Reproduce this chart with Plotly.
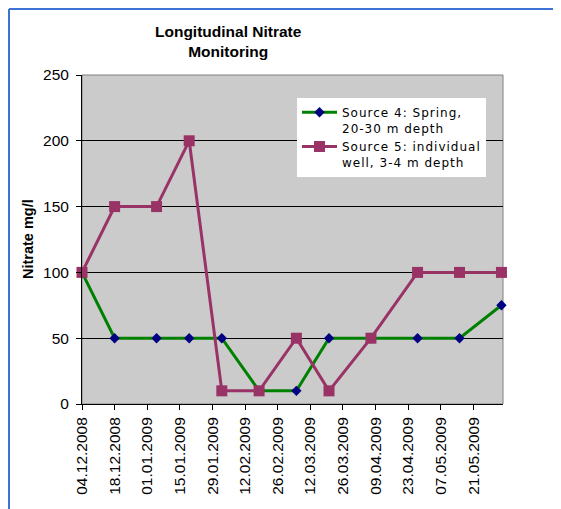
import plotly.graph_objects as go
from datetime import datetime

# ---- data ----
sample_dates = ["2008-12-04", "2008-12-18", "2009-01-05", "2009-01-19", "2009-02-02",
                "2009-02-18", "2009-03-06", "2009-03-20", "2009-04-07", "2009-04-27",
                "2009-05-15", "2009-06-02"]
source4 = [100, 50, 50, 50, 50, 10, 10, 50, 50, 50, 50, 75]
source5 = [100, 150, 150, 200, 10, 10, 50, 10, 50, 100, 100, 100]
series_names = [["Source 4: Spring,", "20-30 m depth"],
                ["Source 5: individual", "well, 3-4 m depth"]]
tick_labels = ["04.12.2008", "18.12.2008", "01.01.2009", "15.01.2009", "29.01.2009",
               "12.02.2009", "26.02.2009", "12.03.2009", "26.03.2009", "09.04.2009",
               "23.04.2009", "07.05.2009", "21.05.2009"]
y_ticks = [0, 50, 100, 150, 200, 250]

tick_vals = [datetime.strptime(t, "%d.%m.%Y").strftime("%Y-%m-%d") for t in tick_labels]


def spaced(lines):
    return "<br>".join('<span style="letter-spacing:1px">%s</span>' % s for s in lines)


fig = go.Figure()
fig.add_trace(go.Scatter(
    x=sample_dates, y=source4, mode="lines+markers",
    name=spaced(series_names[0]),
    line=dict(color="#008000", width=3),
    marker=dict(symbol="diamond", size=8, color="#000080"),
    cliponaxis=False))
fig.add_trace(go.Scatter(
    x=sample_dates, y=source5, mode="lines+markers",
    name=spaced(series_names[1]),
    line=dict(color="#993366", width=3),
    marker=dict(symbol="square", size=11, color="#993366"),
    cliponaxis=False))

# page body has an 8px margin, so the figure starts at (8, 8) of the window
OFF = 8
W, H = 561 - OFF, 509 - OFF
L, T = 82 - OFF, 75 - OFF
R = W - (503 - OFF)
B = H - (404 - OFF)
pw, ph = W - L - R, H - T - B


def px(x):
    return (x - OFF - L) / pw


def py(y):
    return (H - B - (y - OFF)) / ph


shapes = [
    # blue window border
    dict(type="line", xref="paper", yref="paper", x0=px(9), x1=px(9), y0=py(520), y1=py(9),
         line=dict(color="#3d72d6", width=2)),
    dict(type="line", xref="paper", yref="paper", x0=px(9), x1=px(570), y0=py(9), y1=py(9),
         line=dict(color="#3d72d6", width=2)),
    # grey plot-area frame
    dict(type="rect", xref="paper", yref="paper", x0=0, x1=1, y0=0, y1=1,
         line=dict(color="#808080", width=1), layer="between"),
]

fig.update_layout(
    width=W, height=H,
    margin=dict(l=L, r=R, t=T, b=B, autoexpand=False),
    paper_bgcolor="white",
    plot_bgcolor="#cbcbcb",
    font=dict(family="Liberation Sans, Arial, sans-serif", color="black"),
    showlegend=True,
    legend=dict(x=px(297), y=py(98), xanchor="left", yanchor="top",
                bgcolor="white", borderwidth=0, itemwidth=35, valign="top",
                font=dict(family="DejaVu Sans, Verdana, sans-serif", size=12, color="black"),
                tracegroupgap=8),
    shapes=shapes,
    annotations=[
        dict(text="<b>Longitudinal Nitrate<br>Monitoring</b>", xref="paper", yref="paper",
             x=px(228), y=py(41), xanchor="center", yanchor="middle", showarrow=False,
             font=dict(size=15.5, family="Liberation Sans, Arial, sans-serif")),
        dict(text="<b>Nitrate mg/l</b>", xref="paper", yref="paper",
             x=px(28), y=py(239), xanchor="center", yanchor="middle", showarrow=False,
             textangle=-90, font=dict(size=14.5, family="Liberation Sans, Arial, sans-serif")),
    ],
)

fig.update_xaxes(
    type="date", range=["2008-12-04", "2009-06-02 16:00"],
    tickvals=tick_vals, ticktext=tick_labels, tickangle=-90,
    ticks="outside", ticklen=5, tickcolor="black",
    showline=True, linecolor="black", linewidth=1,
    showgrid=False, zeroline=False, automargin=False,
    tickfont=dict(size=15.5), ticklabelstandoff=1,
)
fig.update_yaxes(
    range=[0, 250], tickvals=y_ticks,
    ticks="outside", ticklen=5, tickcolor="black",
    showline=True, linecolor="black", linewidth=1,
    showgrid=True, gridcolor="black", gridwidth=1, zeroline=False, automargin=False,
    tickfont=dict(size=15.5), ticklabelstandoff=4,
)

fig.write_html("out.html")
